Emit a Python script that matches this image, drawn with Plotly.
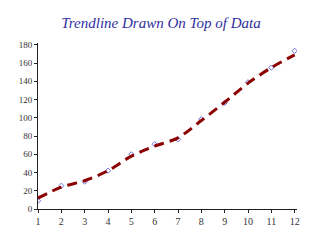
import plotly.graph_objects as go

x_vals = [1, 2, 3, 4, 5, 6, 7, 8, 9, 10, 11, 12]
data_vals = [9, 25.5, 30, 42, 60, 71, 76.5, 98.5, 116.5, 139, 155, 173.5]
trend_vals = [12, 24, 31, 42, 58, 69, 78, 97, 117, 138, 155, 169]
y_ticks = [0, 20, 40, 60, 80, 100, 120, 140, 160, 180]

fig = go.Figure()
fig.add_trace(go.Scatter(
    x=x_vals, y=data_vals, mode="markers",
    marker=dict(symbol="diamond-open", size=4, color="#7070e0", line=dict(width=1)),
    showlegend=False,
))
fig.add_trace(go.Scatter(
    x=x_vals, y=trend_vals, mode="lines",
    line=dict(color="#8b0000", width=3, dash="10px,6px", shape="spline", smoothing=0.8),
    showlegend=False,
))

fig.update_layout(
    width=322, height=241,
    margin=dict(l=38, r=25, t=43, b=32),
    paper_bgcolor="white", plot_bgcolor="white",
    title=dict(text="Trendline Drawn On Top of Data", x=0.5, xanchor="center", y=0.905, yanchor="middle",
               font=dict(family="Liberation Serif", size=15, color="#3030a0", style="italic")),
    font=dict(family="Liberation Serif", size=9, color="#333333"),
)
fig.update_xaxes(range=[1, 12.1], tickvals=x_vals, showgrid=False, zeroline=False,
                 showline=True, linecolor="#222222", linewidth=1, ticks="outside", ticklen=3,
                 tickcolor="#222222", tickfont=dict(size=10, color="#333333"))
fig.update_yaxes(range=[0, 182], tickvals=y_ticks, showgrid=False, zeroline=False,
                 showline=True, linecolor="#222222", linewidth=1, ticks="outside", ticklen=3,
                 tickcolor="#222222", tickfont=dict(size=9, color="#333333"))

fig.write_html("out.html")
